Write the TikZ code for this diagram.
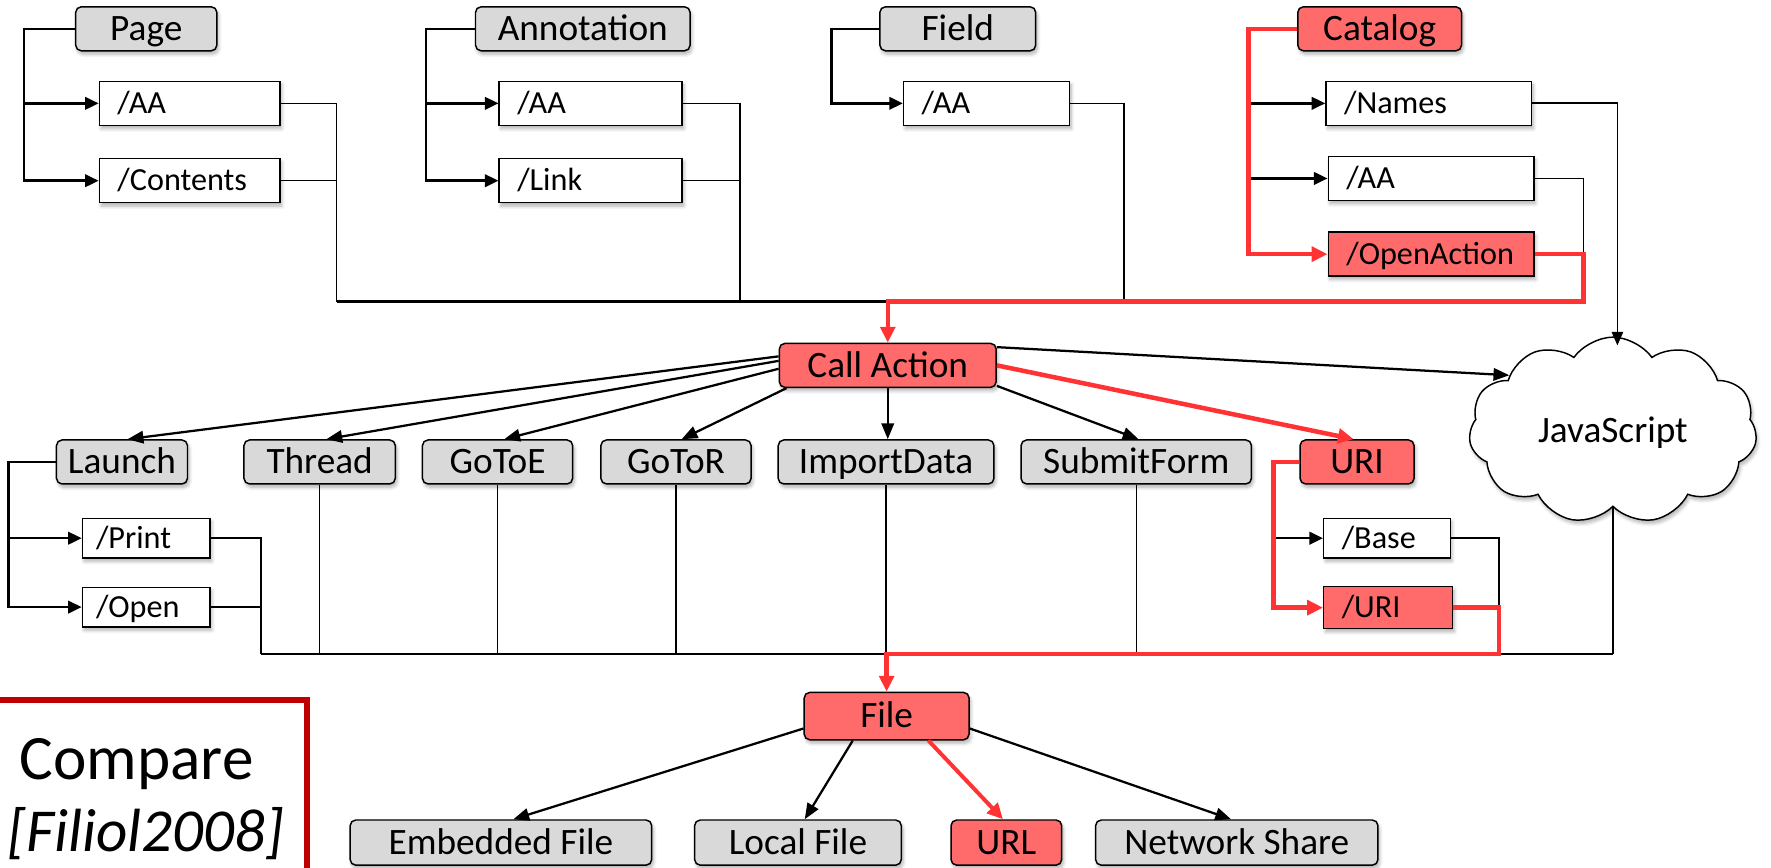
\documentclass[tikz,border=0pt]{standalone}
\usepackage{fontspec}
\setmainfont{Carlito}
\usetikzlibrary{arrows.meta,shapes.symbols,shadows.blur,calc}
\definecolor{boxgray}{HTML}{D9D9D9}
\definecolor{boxred}{HTML}{FF6B6B}
\definecolor{pathred}{HTML}{FF3333}
\definecolor{refred}{HTML}{C00000}
\tikzset{
  softshadow/.style={blur shadow={shadow blur steps=6, shadow xshift=1.5pt, shadow yshift=-3pt, shadow opacity=30, shadow blur radius=3pt}},
  obj/.style={draw, rounded corners=5pt, fill=boxgray, line width=1.3pt, minimum height=39pt, inner sep=0pt,
              font=\fontsize{33}{33}\selectfont, text height=21pt, text depth=0pt, softshadow},
  hotobj/.style={obj, fill=boxred},
  key/.style={draw, fill=white, line width=1.3pt, minimum height=39pt, inner xsep=16pt, inner ysep=0pt,
              text width=#1, align=left, font=\fontsize{28.5}{28.5}\selectfont, text height=18pt, text depth=0pt, softshadow},
  hotkey/.style={key=#1, fill=boxred},
  tree/.style={line width=2.2pt, -{Triangle[length=12pt,width=11pt]}},
  fan/.style={line width=2pt, -{Triangle[length=14pt,width=11pt]}},
  wire/.style={line width=1.3pt},
  bus/.style={line width=2pt},
  hotpath/.style={draw=pathred, line width=4pt, -{Triangle[length=14pt,width=13pt]}},
}
\begin{document}
\begin{tikzpicture}[x=1pt, y=-1pt]
\useasboundingbox (0,0) rectangle (1568,768);
\clip (0,0) rectangle (1568,768);

% ---------- object dictionaries ----------
\node[obj, minimum width=125pt] (page) at (129.5,25.5) {Page};
\node[key=128pt] (pageaa) at (168,91.5) {/AA};
\node[key=128pt] (pagect) at (168,160) {/Contents};

\node[obj, minimum width=190pt] (annot) at (516,25.5) {Annotation};
\node[key=130pt] (annaa) at (523,91.5) {/AA};
\node[key=130pt] (annlk) at (523,160) {/Link};

\node[obj, minimum width=138pt] (field) at (848,25.5) {Field};
\node[key=115pt] (fieldaa) at (873.5,91.5) {/AA};

\node[hotobj, minimum width=145pt] (catalog) at (1221.5,25.5) {Catalog};
\node[key=150pt] (catnm) at (1265,91.5) {/Names};
\node[key=150pt] (cataa) at (1267,158) {/AA};
\node[hotkey=150pt] (catoa) at (1267,225) {/OpenAction};

% ---------- actions ----------
\node[hotobj, minimum width=192pt] (call) at (786,323.5) {Call Action};

\node[obj, minimum width=116pt] (launch) at (108,409) {Launch};
\node[obj, minimum width=134pt] (thread) at (283,409) {Thread};
\node[obj, minimum width=133pt] (gotoe) at (440.5,409) {GoToE};
\node[obj, minimum width=133pt] (gotor) at (598.5,409) {GoToR};
\node[obj, minimum width=191pt] (impdata) at (784.5,409) {ImportData};
\node[obj, minimum width=204pt] (submit) at (1006,409) {SubmitForm};
\node[hotobj, minimum width=101pt] (uri) at (1201.5,409) {URI};

\node[key=89pt, minimum height=35pt, inner xsep=12pt] (print) at (129.5,476.5) {/Print};
\node[key=89pt, minimum height=35pt, inner xsep=12pt] (open) at (129.5,537.5) {/Open};
\node[key=80pt, minimum height=35pt] (base) at (1228,476.5) {/Base};
\node[hotkey=82pt, minimum height=37pt] (uriv) at (1229,538) {/URI};

\node[cloud, draw, fill=white, line width=1.3pt, cloud puffs=11, cloud puff arc=110, aspect=1.5,
      minimum width=255pt, minimum height=165pt, inner sep=0pt,
      font=\fontsize{33}{33}\selectfont, text height=21pt, text depth=0pt, softshadow] (js) at (1428,381) {JavaScript};

% ---------- targets ----------
\node[hotobj, minimum width=146pt, minimum height=42pt] (file) at (785,634) {File};
\node[obj, minimum width=267pt, minimum height=40pt] (embedded) at (443.5,746) {Embedded File};
\node[obj, minimum width=183pt, minimum height=40pt] (local) at (706.5,746) {Local File};
\node[hotobj, minimum width=98pt, minimum height=40pt] (url) at (891,746) {URL};
\node[obj, minimum width=250pt, minimum height=40pt] (netshare) at (1095,746) {Network Share};

% ---------- reference box ----------
\node[draw=refred, line width=5pt, minimum width=300pt, minimum height=200pt, inner sep=0pt] (cmp) at (122,720) {};
\node[anchor=base, font=\fontsize{56}{56}\selectfont] (cmpa) at (121,690) {Compare};
\node[anchor=base, font=\fontsize{54}{54}\selectfont\itshape] (cmpb) at (129,754) {[Filiol2008]};

% ---------- dictionary entries ----------
\draw[tree] (page.west) -- ++(-45,0) |- (pageaa.west);
\draw[tree] (page.west) -- ++(-45,0) |- (pagect.west);
\draw[tree] (annot.west) -- ++(-43,0) |- (annaa.west);
\draw[tree] (annot.west) -- ++(-43,0) |- (annlk.west);
\draw[tree] (field.west) -- ++(-42,0) |- (fieldaa.west);
\draw[tree] ([xshift=-43pt]catalog.west) |- (catnm.west);
\draw[tree] ([xshift=-43pt]catalog.west) |- (cataa.west);
\draw[tree] (launch.west) -- ++(-42,0) |- (print.west);
\draw[tree] (launch.west) -- ++(-42,0) |- (open.west);
\draw[tree] ([xshift=-23pt]uri.west) |- (base.west);

% ---------- upper collector ----------
\coordinate (busP) at (298,267);
\coordinate (busA) at (655,267);
\coordinate (busF) at (995,267);
\coordinate (busC) at (1402,267);
\draw[wire] (pageaa.east) -| (busP);
\draw[wire] (pagect.east) -- (pagect.east -| busP);
\draw[wire] (annaa.east) -| (busA);
\draw[wire] (annlk.east) -- (annlk.east -| busA);
\draw[wire] (fieldaa.east) -| (busF);
\draw[bus] (busP) -- (busF);
\draw[wire] (cataa.east) -| (catoa.east -| busC);
\draw[wire, line width=1.6pt, -{Triangle[length=12pt,width=10pt]}] (catnm.east) -| ([xshift=4pt, yshift=-8pt]js.north);

% ---------- action fan-out ----------
\draw[fan] ([yshift=8pt]call.west) -- ([xshift=5pt]launch.north);
\draw[fan] ([yshift=4pt]call.west) -- ([xshift=6pt]thread.north);
\draw[fan] ([yshift=-3pt]call.west) -- ([xshift=6pt]gotoe.north);
\draw[fan] ([xshift=7pt]call.south west) -- ([xshift=5pt]gotor.north);
\draw[fan] (call.south) -- (call.south |- impdata.north);
\draw[fan] ([yshift=2pt]call.south east) -- ([xshift=2pt]submit.north);
\draw[fan] ([yshift=-4pt]call.north east) -- (js.152);

% ---------- lower collector ----------
\coordinate (lbus) at (231,579);
\coordinate (ubus) at (1327,579);
\draw[wire] (print.east) -| (lbus);
\draw[wire] (open.east) -- (open.east -| lbus);
\draw[wire] (thread.south) -- (thread.south |- lbus);
\draw[wire] (gotoe.south) -- (gotoe.south |- lbus);
\draw[wire] (gotor.south) -- (gotor.south |- lbus);
\draw[wire] (impdata.south) -- (impdata.south |- lbus);
\draw[wire] (submit.south) -- (submit.south |- lbus);
\draw[wire] (js.south) -- (js.south |- lbus);
\draw[bus] (lbus) -- (js.south |- lbus);
\draw[wire] (base.east) -| (uriv.east -| ubus);

% ---------- file targets ----------
\draw[fan] ([yshift=-11pt]file.west) -- ([xshift=11pt]embedded.north);
\draw[fan] ([xshift=-30pt]file.south) -- ([xshift=6pt]local.north);
\draw[fan] ([yshift=-11pt]file.east) -- ([xshift=-5pt]netshare.north);

% ---------- highlighted path ----------
\draw[hotpath] (catalog.west) -- ++(-43,0) |- (catoa.west);
\draw[hotpath] (catoa.east) -| (busC) -| (call.north);
\draw[hotpath] (call.east) -- ([xshift=-3pt]uri.north);
\draw[hotpath] (uri.west) -- ++(-23,0) |- (uriv.west);
\draw[hotpath] (uriv.east) -| (ubus) -| (file.north);
\draw[hotpath, line width=3.5pt] ([xshift=37pt]file.south) -- ([xshift=-3pt]url.north);
\end{tikzpicture}
\end{document}
